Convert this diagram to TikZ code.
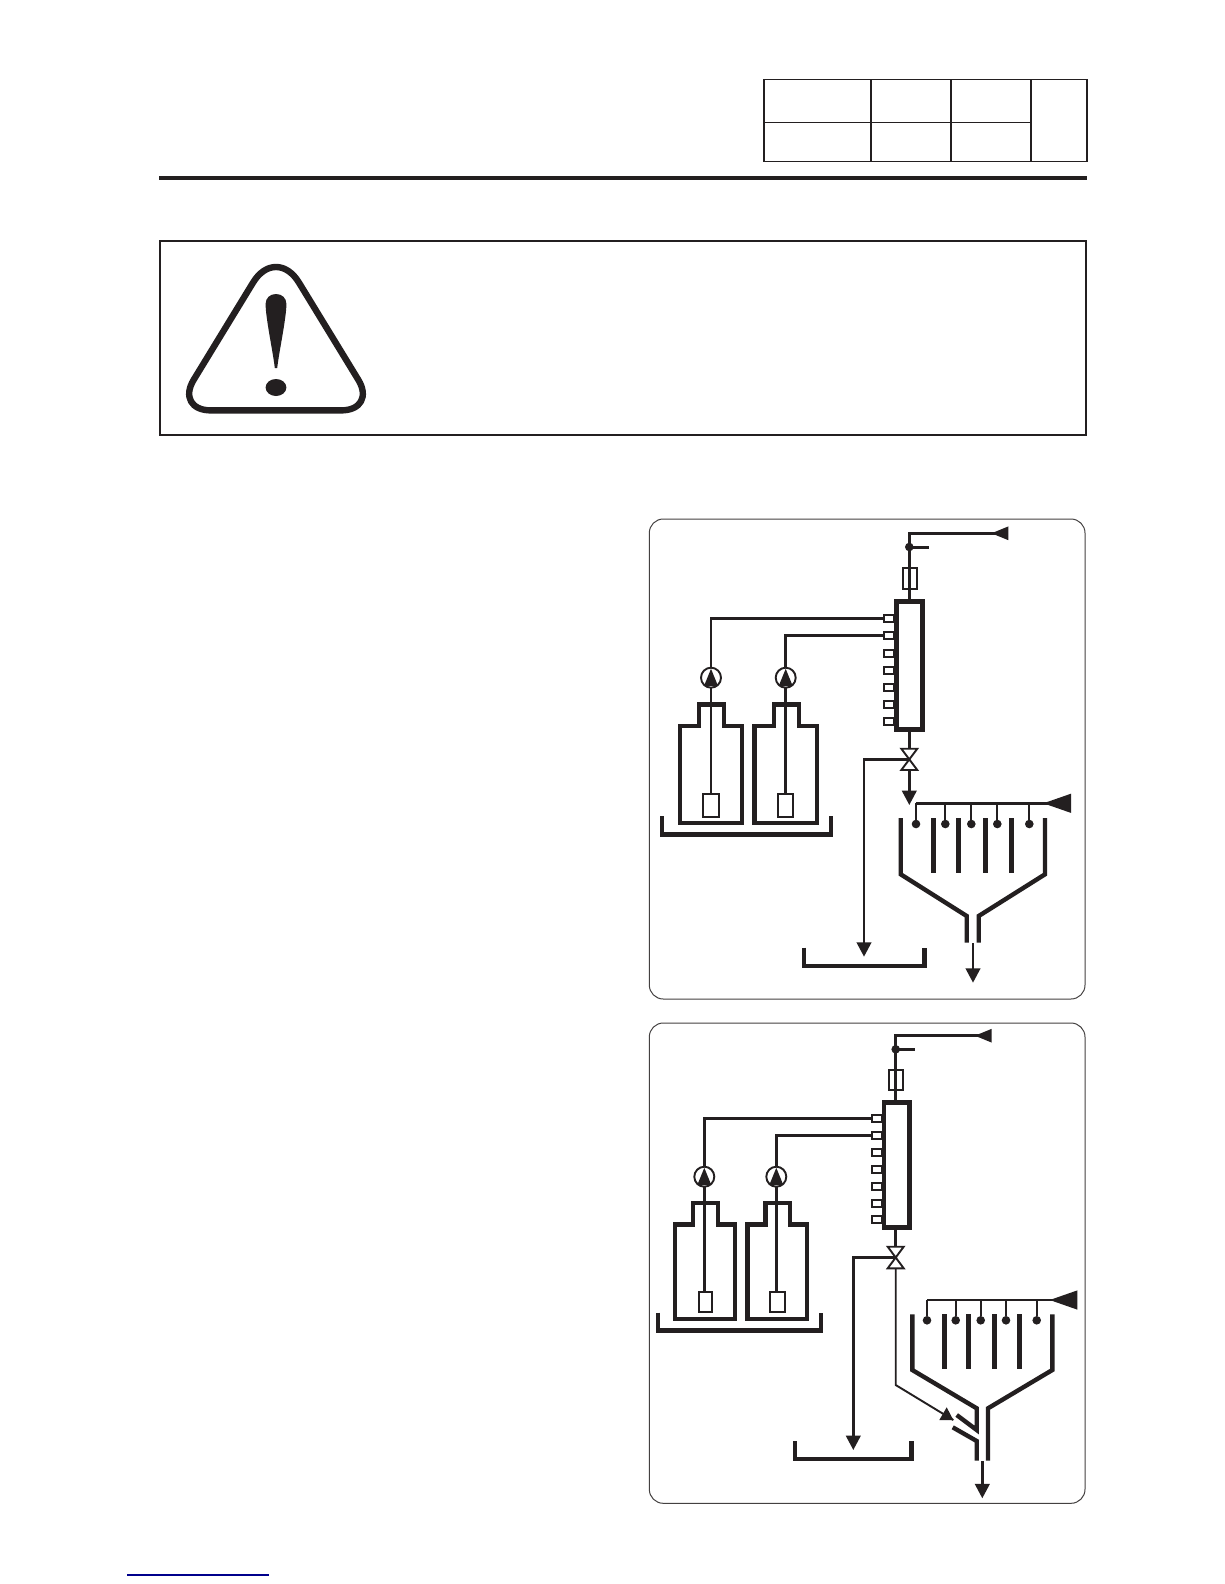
\documentclass[tikz,border=0pt]{standalone}
\usetikzlibrary{arrows.meta}
\definecolor{ink}{RGB}{35,31,32}
\tikzset{
  thickwall/.style={draw=ink,line width=4.4pt,miter limit=10},
  baffle/.style={draw=ink,line width=5pt},
  pipe/.style={draw=ink,line width=2.6pt},
  thinpipe/.style={draw=ink,line width=1.9pt},
  portbox/.style={draw=ink,fill=white,line width=2pt,minimum width=10.6pt,minimum height=7pt,inner sep=0pt,outer sep=0pt},
  fusebox/.style={draw=ink,line width=1.9pt,minimum width=14pt,minimum height=21pt,inner sep=0pt,outer sep=0pt},
  manifoldbox/.style={draw=ink,fill=white,line width=4.5pt,inner sep=0pt,outer sep=0pt},
  sensorbox/.style={draw=ink,fill=white,line width=1.9pt,inner sep=0pt,outer sep=0pt},
  pumpring/.style={circle,draw=ink,fill=white,line width=1.9pt,minimum size=20pt,inner sep=0pt,outer sep=0pt},
  dropdot/.style={circle,fill=ink,minimum size=8.6pt,inner sep=0pt,outer sep=0pt},
  panel/.style={draw=ink!85,line width=1pt,rounded corners=14pt},
  outhead/.style={-{Triangle[width=14.5pt,length=14.4pt]}},
  inhead/.style={{Triangle[reversed,width=13pt,length=17pt]}-},
  bighead/.style={{Triangle[reversed,width=18.5pt,length=27.7pt]}-},
}
\begin{document}
\begin{tikzpicture}[x=1pt,y=-1pt]
\useasboundingbox (0,0) rectangle (1224,1584);
\fill[white] (0,0) rectangle (1224,1584);

% header table
\draw[ink,line width=1.2pt] (764,79.3) rectangle (1087,161.3);
\draw[ink,line width=1.2pt] (871,79.3) -- (871,161.3) (951,79.3) -- (951,161.3) (1031,79.3) -- (1031,161.3) (764,122.3) -- (1031,122.3);
\draw[ink,line width=4pt] (159,178) -- (1087,178);

% caution box
\draw[ink,line width=2pt] (160,241) rectangle (1086,435);
\draw[ink,line width=6.4pt,line join=round]
  (276,410.4) [rounded corners=36pt] -- (175,410.4) [rounded corners=44pt] -- (276,245) [rounded corners=36pt] -- (377,410.4) [sharp corners] -- cycle;
\fill[ink] (265.6,304) .. controls (265.6,298) and (270,294) .. (276,294) .. controls (282,294) and (286.4,298) .. (286.4,304) .. controls (286.4,318) and (279,352) .. (277.2,368) -- (274.8,368) .. controls (273,352) and (265.6,318) .. (265.6,304) -- cycle;
\fill[ink] (276,387.5) ellipse [x radius=10.4pt,y radius=8.5pt];

% ---------- panel 1 ----------
\draw[panel] (649.3,519) rectangle (1085,999);
\draw[thickwall] (679.8,822.7) -- (741.8,822.7) -- (741.8,726) -- (723.8,726) -- (723.8,704.5) -- (698.8,704.5) -- (698.8,726) -- (679.8,726) -- cycle;
\draw[thickwall] (754.5,822.7) -- (816.7,822.7) -- (816.7,726) -- (798.7,726) -- (798.7,704.5) -- (773.7,704.5) -- (773.7,726) -- (754.5,726) -- cycle;
\draw[thickwall] (662.2,816) -- (662.2,834.5) -- (830.7,834.5) -- (830.7,816);

\node[manifoldbox,minimum width=26pt,minimum height=127.6pt] (Am) at (909.7,665.5) {};
\node[fusebox] (Af) at (909.7,578.3) {};
\coordinate (Atop) at (909.3,533.3);
\coordinate (Ain) at (1008.3,533.3);
\coordinate (Adot) at (909.3,547);
\coordinate (Astub) at (928.7,547);
\draw[pipe,inhead] (Ain) -- (Atop) -- (Am.north -| Atop);
\draw[ink,line width=3pt] (Adot) -- (Astub);
\node[dropdot] at (Adot) {};
\foreach \n/\y in {1/618.3,2/635.3,3/653,4/670,5/687.3,6/704.3,7/721.3}
  \node[portbox] (Ap\n) at (889,\y) {};
\node[sensorbox,minimum width=15.4pt,minimum height=22.4pt] (As1) at (711,805.5) {};
\node[sensorbox,minimum width=14.7pt,minimum height=22.4pt] (As2) at (785.7,805.5) {};
\node[pumpring] (Ap) at (711,677.7) {};
\node[pumpring] (Aq) at (785.7,677.7) {};
\draw[pipe] (Ap1.west) -| (Ap.north);
\draw[pipe] (Ap2.west) -| (Aq.north);
\draw[pipe] (Ap.south) -- (As1.north);
\draw[pipe] (Aq.south) -- (As2.north);
\fill[ink] (711,668.8) -- (718,686) -- (704,686) -- cycle;
\fill[ink] (785.7,668.8) -- (792.7,686) -- (778.7,686) -- cycle;

\coordinate (Av) at (909.3,759.3);
\coordinate (Adrain) at (864,956.7);
\coordinate (Afeed) at (909.3,805);
\draw[pipe] (Am.south -| Av) -- (Av);
\draw[thinpipe,fill=white] (901.3,748.7) -- (917.3,748.7) -- (901.3,770) -- (917.3,770) -- cycle;
\draw[pipe,outhead] (Av) -| (Adrain);
\draw[pipe,outhead] (909.3,770) -- (Afeed);
\draw[thickwall] (803.7,947.7) -- (803.7,965.7) -- (924.3,965.7) -- (924.3,947.7);
\coordinate (Ahl) at (916,803.3);
\coordinate (Ahr) at (1071,803.3);
\draw[pipe,bighead] (Ahr) -- (Ahl);
\foreach \n/\x in {1/916,2/945.3,3/971.3,4/997.3,5/1029.3}{
  \node[dropdot] (Ad\n) at (\x,824) {};
  \draw[thinpipe] (\x,803.3) -- (Ad\n);
}
\foreach \x in {933,958.3,985.3,1011.3}
  \draw[baffle] (\x,818) -- (\x,873.3);
\draw[thickwall] (900.7,818) -- (900.7,874.3) -- (966.7,916) -- (966.7,942.7);
\draw[thickwall] (1045,818) -- (1045,874.3) -- (978.7,916) -- (978.7,942.7);
\coordinate (Aout) at (973,943.3);
\coordinate (Aoutend) at (973,982.7);
\draw[pipe,outhead] (Aout) -- (Aoutend);

% ---------- panel 2 ----------
\draw[panel] (649.3,1023) rectangle (1085,1503.3);
\draw[thickwall] (674.8,1318.7) -- (734.8,1318.7) -- (734.8,1224.3) -- (717.8,1224.3) -- (717.8,1203) -- (693.2,1203) -- (693.2,1224.3) -- (674.8,1224.3) -- cycle;
\draw[thickwall] (747.3,1318.7) -- (806.7,1318.7) -- (806.7,1224.3) -- (790,1224.3) -- (790,1203) -- (765.3,1203) -- (765.3,1224.3) -- (747.3,1224.3) -- cycle;
\draw[thickwall] (657.7,1312.7) -- (657.7,1330.3) -- (821,1330.3) -- (821,1312.7);

\node[manifoldbox,minimum width=25.3pt,minimum height=124.6pt] (Bm) at (896.7,1165) {};
\node[fusebox,minimum height=20.6pt] (Bf) at (895.7,1080) {};
\coordinate (Btop) at (895.7,1035.7);
\coordinate (Bin) at (991.7,1035.7);
\coordinate (Bdot) at (895.7,1049.3);
\coordinate (Bstub) at (915,1049.3);
\draw[pipe,inhead] (Bin) -- (Btop) -- (Bm.north -| Btop);
\draw[ink,line width=3pt] (Bdot) -- (Bstub);
\node[dropdot] at (Bdot) {};
\foreach \n/\y in {1/1118.7,2/1135.3,3/1152.3,4/1169.3,5/1186,6/1203,7/1219.7}
  \node[portbox] (Bp\n) at (877,\y) {};
\node[sensorbox,minimum width=13pt,minimum height=20.6pt] (Bs1) at (705.2,1302) {};
\node[sensorbox,minimum width=14.4pt,minimum height=20.6pt] (Bs2) at (777.5,1302) {};
\node[pumpring] (Bp) at (704.3,1176.7) {};
\node[pumpring] (Bq) at (776.3,1176.7) {};
\draw[pipe] (Bp1.west) -| (Bp.north);
\draw[pipe] (Bp2.west) -| (Bq.north);
\draw[pipe] (Bp.south) -- (Bs1.north -| Bp);
\draw[pipe] (Bq.south) -- (Bs2.north -| Bq);
\fill[ink] (704.3,1167.8) -- (711.3,1185) -- (697.3,1185) -- cycle;
\fill[ink] (776.3,1167.8) -- (783.3,1185) -- (769.3,1185) -- cycle;

\coordinate (Bv) at (895.7,1257.3);
\coordinate (Bdrain) at (853.3,1450);
\draw[pipe] (Bm.south -| Bv) -- (Bv);
\draw[thinpipe,fill=white] (887.7,1246.7) -- (903.7,1246.7) -- (887.7,1268.3) -- (903.7,1268.3) -- cycle;
\draw[pipe,outhead] (Bv) -| (Bdrain);
\coordinate (Bbend) at (895.7,1385);
\coordinate (Bfeed) at (953.3,1420);
\draw[thinpipe] (895.7,1268.3) -- (Bbend) -- (Bfeed);
\fill[ink] (953.3,1420) -- (939.3,1420) -- (946.7,1407.3) -- cycle;
\draw[thickwall] (794.7,1441) -- (794.7,1459) -- (911.3,1459) -- (911.3,1441);
\coordinate (Bhl) at (926.7,1300);
\coordinate (Bhr) at (1077.3,1300);
\draw[pipe,bighead] (Bhr) -- (Bhl);
\foreach \n/\x in {1/927,2/955.7,3/980.7,4/1006,5/1036.7}{
  \node[dropdot] (Bd\n) at (\x,1320.3) {};
  \draw[thinpipe] (\x,1300) -- (Bd\n);
}
\foreach \x in {944,968.3,994.3,1019.7}
  \draw[baffle] (\x,1314.3) -- (\x,1369);
\draw[thickwall] (912.3,1314.3) -- (912.3,1370) -- (976.7,1408.3) -- (976.7,1430) -- (956.7,1415);
\draw[thickwall] (952.7,1427.3) -- (976.7,1441) -- (976.7,1460.7);
\draw[thickwall] (1052.3,1314.3) -- (1052.3,1370) -- (988,1408.3) -- (988,1460.7);
\coordinate (Bout) at (982.3,1461);
\coordinate (Boutend) at (982.3,1498.3);
\draw[pipe,outhead] (Bout) -- (Boutend);

% footer rule
\draw[blue!55!black,line width=1.5pt] (127,1575) -- (269,1575);
\end{tikzpicture}
\end{document}
